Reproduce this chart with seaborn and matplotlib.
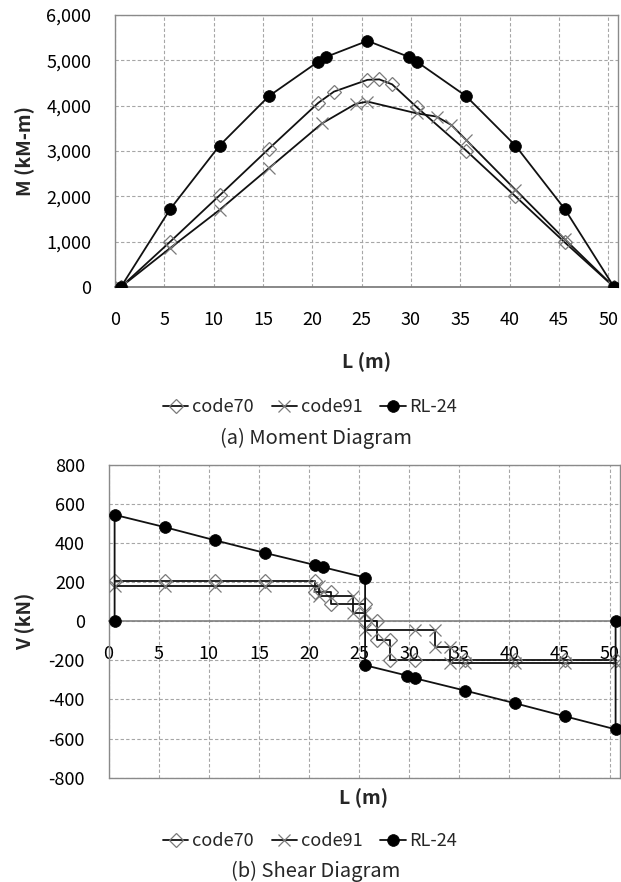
import matplotlib
matplotlib.use("Agg")
import matplotlib.pyplot as plt
import seaborn as sns
import pandas as pd
from matplotlib.lines import Line2D

# ---------------- data ----------------
x_ticks = [0, 5, 10, 15, 20, 25, 30, 35, 40, 45, 50]
x_tick_labels = ["0", "5", "10", "15", "20", "25", "30", "35", "40", "45", "50"]
m_ticks = [0, 1000, 2000, 3000, 4000, 5000, 6000]
m_tick_labels = ["0", "1,000", "2,000", "3,000", "4,000", "5,000", "6,000"]
v_ticks = [-800, -600, -400, -200, 0, 200, 400, 600, 800]
v_tick_labels = ["-800", "-600", "-400", "-200", "0", "200", "400", "600", "800"]

series_names = ["code70", "code91", "RL-24"]

# Moment diagram (kN-m)
m_L_code70 = [0.6, 5.6, 10.6, 15.6, 20.6, 22.2, 25.6, 26.8, 28.1, 30.6, 35.6, 40.6, 45.6, 50.6]
m_code70 = [0, 1000, 2020, 3050, 4060, 4310, 4570, 4580, 4470, 3965, 3010, 2000, 985, 0]
m_L_code91 = [0.6, 5.6, 10.6, 15.6, 21.0, 24.4, 25.6, 30.6, 32.6, 34.1, 35.6, 40.6, 45.6, 50.6]
m_code91 = [0, 860, 1700, 2620, 3610, 4040, 4090, 3830, 3760, 3575, 3245, 2145, 1055, 0]
m_L_rl24 = [0.6, 5.6, 10.6, 15.6, 20.6, 21.4, 25.6, 29.8, 30.6, 35.6, 40.6, 45.6, 50.6]
m_rl24 = [0, 1720, 3120, 4210, 4970, 5075, 5430, 5075, 4970, 4210, 3120, 1720, 0]

# Shear diagram (kN)
v_L_code70 = [0.6, 5.6, 10.6, 15.6, 20.6, 20.6, 22.2, 22.2, 25.6, 25.6, 26.8, 26.8,
              28.1, 28.1, 30.6, 35.6, 40.6, 45.6, 50.6]
v_code70 = [204, 204, 204, 204, 204, 150, 150, 87, 87, 0, 0, -95,
            -95, -199, -199, -199, -199, -199, -199]
v_L_code91 = [0.6, 5.6, 10.6, 15.6, 21.0, 21.0, 24.4, 24.4, 25.6, 25.6, 30.6, 32.6,
              32.6, 34.1, 34.1, 35.6, 40.6, 45.6, 50.6]
v_code91 = [179, 179, 179, 179, 179, 127, 127, 42, 42, -45, -45, -45,
            -130, -130, -213, -213, -213, -213, -213]
v_L_rl24 = [0.6, 0.6, 5.6, 10.6, 15.6, 20.6, 21.4, 25.6, 25.6, 29.8, 30.6, 35.6,
            40.6, 45.6, 50.6, 50.6]
v_rl24 = [0, 545, 482, 415, 350, 288, 277, 224, -225, -278, -292, -355,
          -420, -487, -553, 0]

# ---------------- style ----------------
sns.set_theme(style="white")
plt.rcParams["font.family"] = ["Noto Sans CJK KR", "DejaVu Sans"]
plt.rcParams["axes.unicode_minus"] = False

W, H = 621, 882
fig = plt.figure(figsize=(W / 100, H / 100), dpi=100)
fig.patch.set_facecolor("white")


def px_axes(left, top, right, bottom):
    return fig.add_axes([left / W, 1 - bottom / H, (right - left) / W, (bottom - top) / H])


ax1 = px_axes(115, 15, 618, 287)
ax2 = px_axes(108.6, 465, 619.6, 777.6)

GRID = "#a6a6a6"
FRAME = "#8a8a8a"
LINE = "#111111"
MARK = "#7a7a7a"

styles = {
    "code70": dict(marker="D", markersize=7.5, markerfacecolor="none",
                   markeredgecolor=MARK, markeredgewidth=0.9, zorder=3),
    "code91": dict(marker="x", markersize=9, markeredgecolor=MARK,
                   markeredgewidth=0.9, zorder=3),
    "RL-24": dict(marker="o", markersize=8.5, markerfacecolor="black",
                  markeredgecolor="black", markeredgewidth=0.5, zorder=4),
}


def draw(ax, xs, ys, name):
    df = pd.DataFrame({"L": xs, "v": ys})
    sns.lineplot(data=df, x="L", y="v", ax=ax, sort=False, estimator=None,
                 color=LINE, linewidth=1.3, legend=False, **styles[name])


def style(ax, yticks, ylabels, ylim):
    ax.set_xlim(0, 51)
    ax.set_ylim(*ylim)
    ax.set_xticks(x_ticks)
    ax.set_xticklabels(x_tick_labels)
    ax.set_yticks(yticks)
    ax.set_yticklabels(ylabels)
    ax.grid(True, color=GRID, linestyle=(0, (3, 2)), linewidth=0.8)
    ax.set_axisbelow(True)
    for s in ax.spines.values():
        s.set_visible(True)
        s.set_color(FRAME)
        s.set_linewidth(1.0)
    ax.tick_params(length=0, pad=17, labelsize=13, colors="black")
    ax.set_xlabel("")
    ax.set_ylabel("")


draw(ax1, m_L_code70, m_code70, "code70")
draw(ax1, m_L_code91, m_code91, "code91")
draw(ax1, m_L_rl24, m_rl24, "RL-24")
style(ax1, m_ticks, m_tick_labels, (0, 6000))
ax1.spines["bottom"].set_color("#7f7f7f")
ax1.spines["bottom"].set_linewidth(1.3)

draw(ax2, v_L_code70, v_code70, "code70")
draw(ax2, v_L_code91, v_code91, "code91")
draw(ax2, v_L_rl24, v_rl24, "RL-24")
style(ax2, v_ticks, v_tick_labels, (-800, 800))
ax2.spines["bottom"].set_position(("data", 0))
ax2.spines["bottom"].set_color("#7f7f7f")
ax2.spines["bottom"].set_linewidth(1.2)
ax2.plot([0, 1], [0, 0], transform=ax2.transAxes, color=FRAME, lw=1.0, clip_on=False)

# axis titles
bold = dict(fontsize=14, fontweight="bold", ha="center", va="center")
fig.text(25 / W, 1 - 151 / H, "M (kM-m)", rotation=90, **bold)
fig.text(25 / W, 1 - 621 / H, "V (kN)", rotation=90, **bold)
fig.text(366.5 / W, 1 - 362 / H, "L (m)", **bold)
fig.text(364 / W, 1 - 798 / H, "L (m)", **bold)

# legends
handles = [
    Line2D([], [], color=LINE, lw=1.3, **{k: v for k, v in styles[n].items() if k != "zorder"})
    for n in series_names
]
for yc in (407, 841):
    fig.legend(handles, series_names, loc="center", bbox_to_anchor=(310 / W, 1 - yc / H),
               ncol=3, frameon=False, fontsize=13, handlelength=1.4, handletextpad=0.2,
               columnspacing=1.0, borderaxespad=0, borderpad=0)

fig.text(316 / W, 1 - 438 / H, "(a) Moment Diagram", fontsize=14.5, ha="center", va="center")
fig.text(316 / W, 1 - 871 / H, "(b) Shear Diagram", fontsize=14.5, ha="center", va="center")

fig.savefig("out.png", dpi=100, facecolor="white")
